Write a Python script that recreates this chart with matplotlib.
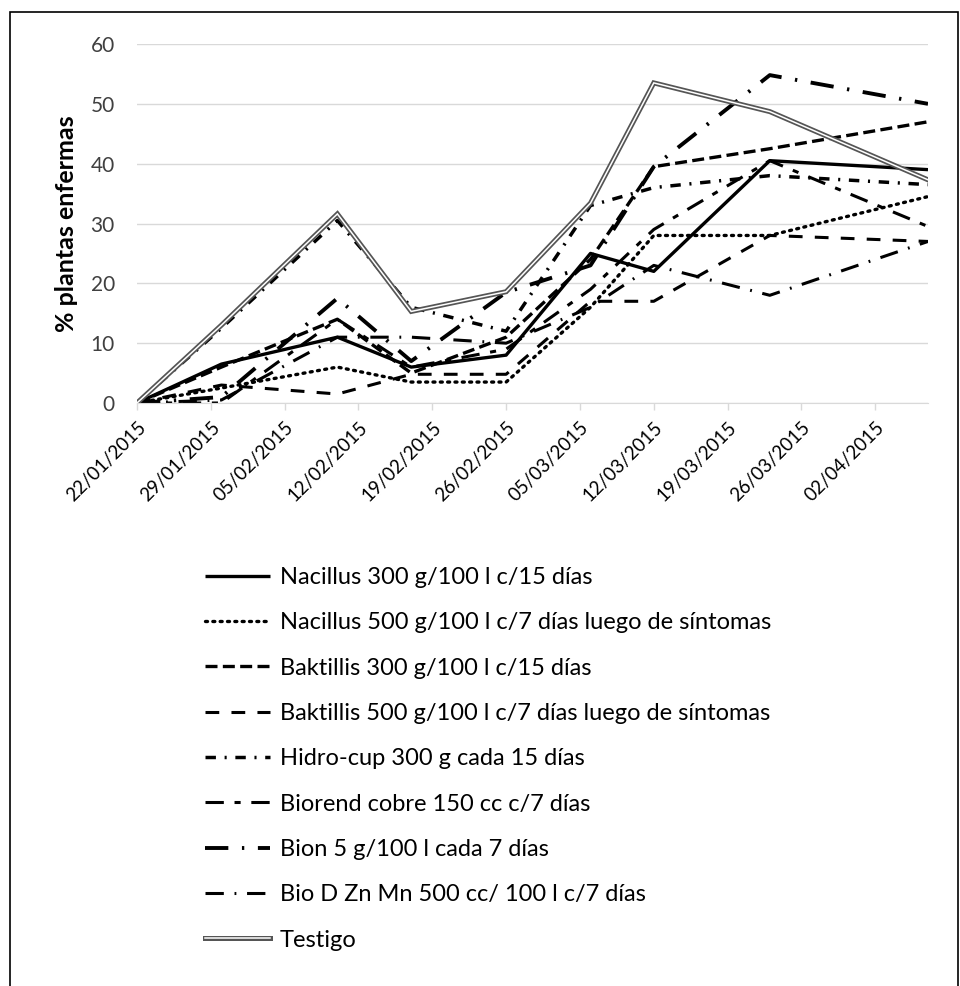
import matplotlib
matplotlib.use("Agg")
import matplotlib.pyplot as plt
import matplotlib.dates as mdates
import matplotlib.patheffects as pe
from matplotlib.patches import Rectangle
from datetime import datetime, timedelta

plt.rcParams['font.family'] = ['Lato', 'DejaVu Sans']

# Fechas de muestreo
fechas = ["22/01/2015", "30/01/2015", "10/02/2015", "17/02/2015", "26/02/2015",
          "06/03/2015", "12/03/2015", "23/03/2015", "07/04/2015"]

# % plantas enfermas por tratamiento
nacillus_300 = [0, 6.5, 11, 6, 8, 25, 22, 40.5, 39]
nacillus_500 = [0, 2.5, 6, 3.5, 3.5, 16, 28, 28, 34.5]
baktillis_300 = [0, 6, 14, 5, 11, 24, 39.5, 42.5, 47]
baktillis_500 = [0, 3, 1.5, 4.8, 4.8, 17, 17, 28, 27]
hidro_cup = [0, 12.5, 30.5, 16, 12, 33, 36, 38, 36.5]
biorend = [0, 0, 14, 6, 9, 19, 29, 40.5, 29.5]
bion = [0, 1, 17.5, 7, 18.5, 23, 39.5, 54.8, 50]
bio_d = [0, 0.5, 11, 11, 10, 16, 23, 18, 27]
testigo = [0, 13, 31.6, 15.3, 18.6, 33.4, 53.5, 48.7, 37.3]

nombres = ["Nacillus 300 g/100 l c/15 días",
           "Nacillus 500 g/100 l c/7 días luego de síntomas",
           "Baktillis 300 g/100 l c/15 días",
           "Baktillis 500 g/100 l c/7 días luego de síntomas",
           "Hidro-cup 300 g cada 15 días",
           "Biorend cobre 150 cc c/7 días",
           "Bion 5 g/100 l cada 7 días",
           "Bio D Zn Mn 500 cc/ 100 l c/7 días",
           "Testigo"]

x = [datetime.strptime(f, "%d/%m/%Y") for f in fechas]

fig = plt.figure(figsize=(9.6, 9.86), dpi=100)
W, H = 960, 986
ax = fig.add_axes([137 / W, 1 - 403 / H, (928 - 137) / W, (403 - 44) / H])

series = [nacillus_300, nacillus_500, baktillis_300, baktillis_500,
          hidro_cup, biorend, bion, bio_d]
estilos = [
    dict(ls='-', lw=2.4),
    dict(ls=(0, (0.6, 1.6)), lw=2.4, dash_capstyle='round'),
    dict(ls=(0, (3.6, 1.6)), lw=2.4),
    dict(ls=(0, (4.5, 4)), lw=2.2),
    dict(ls=(0, (3, 2.5, 0.6, 2.5)), lw=2.5),
    dict(ls=(0, (6, 3.5, 2, 3.5)), lw=2.2),
    dict(ls=(0, (6, 3.5, 0.6, 3.5)), lw=2.8),
    dict(ls=(0, (6, 3.5, 0.6, 3.5)), lw=2.2),
]

handles = []
for vals, st in zip(series, estilos):
    ln, = ax.plot(x, vals, color='black', solid_capstyle='butt', **st)
    handles.append(ln)

# Testigo: linea doble
t_ln, = ax.plot(x, testigo, color='white', lw=1.1, solid_joinstyle='miter',
                path_effects=[pe.Stroke(linewidth=3.6, foreground='#555555'), pe.Normal()])
handles.append(t_ln)

inicio = x[0]
ax.set_xlim(mdates.date2num(inicio), mdates.date2num(x[-1]))
ax.set_ylim(0, 60)
ticks = [inicio + timedelta(days=7 * i) for i in range(11)]
ax.set_xticks(ticks)
ax.set_xticklabels([t.strftime("%d/%m/%Y") for t in ticks], rotation=45,
                   ha='right', rotation_mode='anchor', fontsize=13.5, color='black')
ax.set_yticks(range(0, 61, 10))
ax.tick_params(axis='y', length=0, pad=16, labelsize=15, labelcolor='#404040')
ax.tick_params(axis='x', length=5, width=1, color='#d9d9d9', pad=6)
ax.grid(axis='y', color='#d9d9d9', lw=1)
ax.set_axisbelow(True)
for s in ['top', 'right', 'left']:
    ax.spines[s].set_visible(False)
ax.spines['bottom'].set_color('#d9d9d9')
ax.set_ylabel("% plantas enfermas", fontsize=18, fontweight='bold')
ax.yaxis.set_label_coords(-(137 - 78) / 791, 0.5)

fig.legend(handles, nombres, loc='upper left', bbox_to_anchor=(205 / W, 1 - 567 / H),
           frameon=False, fontsize=17, handlelength=2.75, handletextpad=0.42,
           labelspacing=1.03, borderpad=0, borderaxespad=0)

# marco
fig.patches.append(Rectangle((10 / W, -0.01), (958 - 10) / W, 1 - 12 / H + 0.01,
                             transform=fig.transFigure, fill=False,
                             edgecolor='black', lw=1.2))

fig.savefig("out.png", dpi=100)
